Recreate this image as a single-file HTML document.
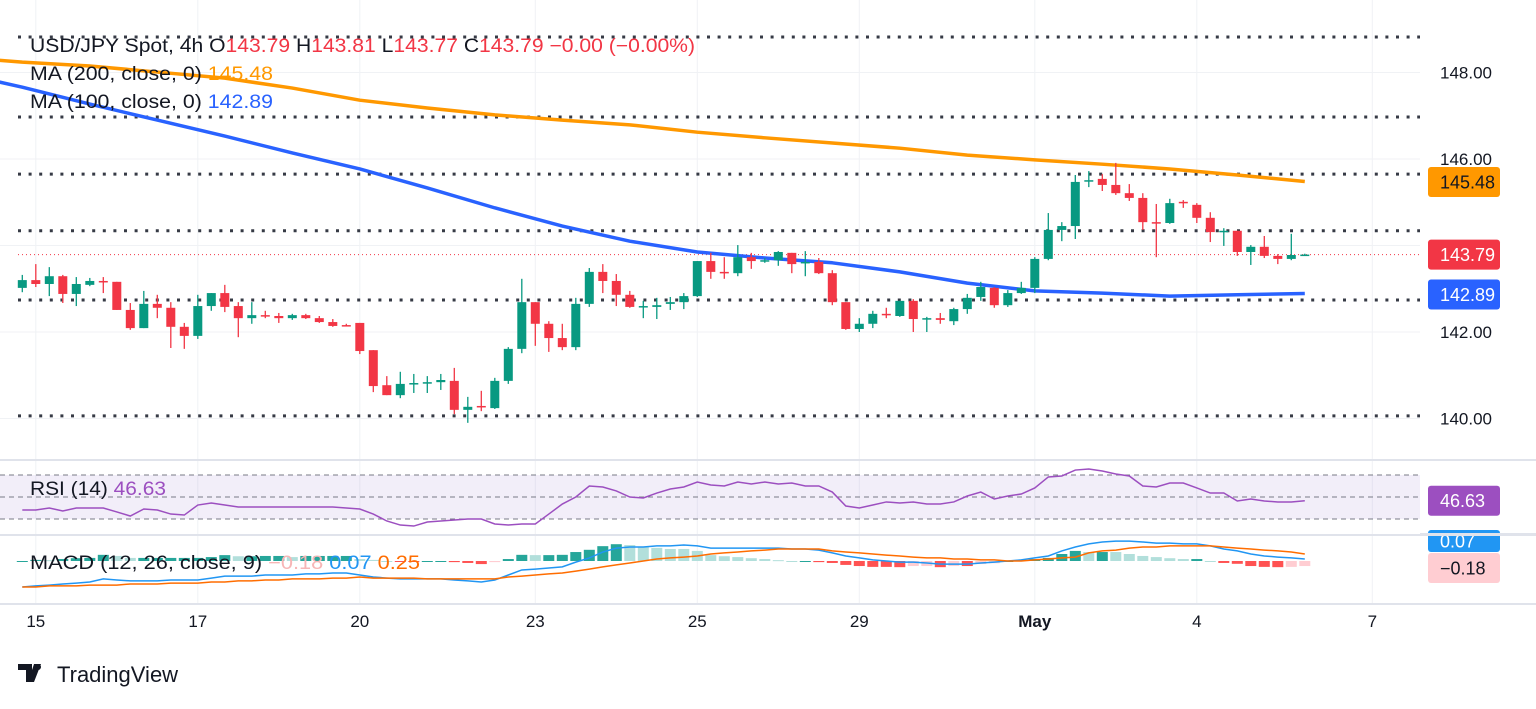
<!DOCTYPE html>
<html><head><meta charset="utf-8">
<style>
html,body{margin:0;padding:0;background:#fff;}
body{width:1536px;height:704px;overflow:hidden;font-family:"Liberation Sans",sans-serif;}
svg text{font-family:"Liberation Sans",sans-serif;}
</style></head>
<body>
<svg id="chart" width="1536" height="704" xmlns="http://www.w3.org/2000/svg">
<rect x="0" y="0" width="1536" height="704" fill="#fff"/>
<g id="grid"></g>
<g id="levels"></g>
<g id="rsiPanel"></g>
<g id="macdPanel"></g>
<g id="mas"></g>
<g id="candles"></g>
<g id="axis"></g>
<g id="timeaxis"></g>
<g font-size="19">
<text x="30" y="52" fill="#131722" textLength="665" lengthAdjust="spacingAndGlyphs">USD/JPY Spot, 4h  O<tspan fill="#f23645">143.79</tspan>  H<tspan fill="#f23645">143.81</tspan>  L<tspan fill="#f23645">143.77</tspan>  C<tspan fill="#f23645">143.79  −0.00 (−0.00%)</tspan></text>
<text x="30" y="80" fill="#131722" textLength="243" lengthAdjust="spacingAndGlyphs">MA (200, close, 0)  <tspan fill="#ff9800">145.48</tspan></text>
<text x="30" y="108" fill="#131722" textLength="243" lengthAdjust="spacingAndGlyphs">MA (100, close, 0)  <tspan fill="#2962ff">142.89</tspan></text>
<text x="30" y="495" fill="#131722" textLength="136" lengthAdjust="spacingAndGlyphs">RSI (14)  <tspan fill="#9c4fc0">46.63</tspan></text>
<text x="30" y="569" fill="#131722" textLength="390" lengthAdjust="spacingAndGlyphs">MACD (12, 26, close, 9)  <tspan fill="#f7b6b6">−0.18</tspan>  <tspan fill="#2196f3">0.07</tspan>  <tspan fill="#ff6d00">0.25</tspan></text>
</g>
<g>
<path d="M18 664h14v18h-6v-12h-8z M34 664h7l-7 18h-6z" fill="#131722"/>
<circle cx="38" cy="667" r="3" fill="#131722"/>
<text x="57" y="682" font-size="22" fill="#131722">TradingView</text>
</g>
</svg>
<script>
// ---- data ----
const open  = [143.02,143.20,143.11,143.29,142.88,143.09,143.18,143.16,142.51,142.09,142.65,142.56,142.12,141.91,142.60,142.90,142.60,142.32,142.39,142.37,142.32,142.39,142.32,142.23,142.16,142.21,141.58,140.77,140.54,140.80,140.82,140.84,140.87,140.20,140.29,140.24,140.87,141.61,142.69,142.19,141.86,141.65,142.65,143.39,143.18,142.86,142.58,142.58,142.65,142.69,142.83,143.64,143.39,143.36,143.73,143.64,143.66,143.83,143.60,143.62,143.36,142.69,142.07,142.19,142.42,142.37,142.72,142.30,142.32,142.25,142.53,142.81,143.02,142.62,142.90,143.02,143.69,144.36,144.45,145.49,145.54,145.40,145.21,145.10,144.54,144.52,145.01,144.94,144.64,144.31,144.34,143.85,143.97,143.76,143.69,143.79];
const high  = [143.32,143.57,143.50,143.32,143.27,143.25,143.27,143.16,142.67,142.95,142.86,142.69,142.21,142.86,142.90,143.09,142.69,142.69,142.49,142.44,142.42,142.42,142.37,142.30,142.19,142.21,141.58,140.98,141.08,141.03,140.98,141.03,141.17,140.50,140.64,140.94,141.65,143.23,142.69,142.25,142.19,142.79,143.48,143.57,143.34,142.95,142.72,142.79,142.81,142.90,143.64,143.83,143.73,144.01,143.83,143.71,143.87,143.83,143.87,143.71,143.43,142.69,142.32,142.49,142.56,142.72,142.76,142.35,142.44,142.56,142.88,143.16,143.04,142.97,143.16,143.73,144.75,144.54,145.63,145.72,145.65,145.91,145.42,145.21,144.96,145.08,145.05,144.98,144.77,144.40,144.34,144.01,144.22,143.80,144.27,143.81];
const low   = [142.92,143.04,142.83,142.67,142.60,143.06,142.90,142.51,142.05,142.09,142.32,141.63,141.61,141.84,142.49,142.46,141.88,142.19,142.32,142.21,142.28,142.30,142.21,142.12,142.14,141.49,140.61,140.54,140.47,140.59,140.59,140.66,140.10,139.90,140.17,140.22,140.80,141.51,141.68,141.54,141.58,141.58,142.58,142.90,142.60,142.56,142.32,142.30,142.51,142.53,142.81,143.23,143.23,143.29,143.46,143.60,143.53,143.36,143.29,143.34,142.62,142.05,142.00,142.09,142.32,142.35,142.00,142.00,142.19,142.16,142.42,142.72,142.56,142.58,142.88,142.90,143.66,144.10,144.15,145.35,145.26,145.17,145.03,144.36,143.73,144.50,144.87,144.52,144.08,143.99,143.76,143.55,143.71,143.57,143.66,143.77];
const close = [143.20,143.11,143.29,142.88,143.11,143.18,143.16,142.51,142.09,142.65,142.56,142.12,141.91,142.60,142.90,142.58,142.32,142.39,142.37,142.32,142.39,142.32,142.23,142.14,142.14,141.56,140.75,140.54,140.80,140.82,140.84,140.89,140.20,140.27,140.27,140.87,141.61,142.69,142.19,141.86,141.65,142.65,143.39,143.18,142.86,142.58,142.60,142.62,142.69,142.83,143.64,143.39,143.38,143.73,143.64,143.66,143.85,143.57,143.62,143.36,142.69,142.07,142.19,142.42,142.39,142.72,142.30,142.32,142.28,142.53,142.79,143.04,142.62,142.90,143.02,143.69,144.36,144.45,145.47,145.51,145.40,145.21,145.10,144.54,144.52,144.98,144.98,144.64,144.31,144.34,143.85,143.97,143.76,143.69,143.78,143.79];
const maIdx  = [-2,0,5,10,15,20,25,30,35,40,45,50,55,60,65,70,75,80,85,90,95];
const ma200  = [148.29,148.24,148.15,148.01,147.87,147.64,147.36,147.18,147.02,146.90,146.79,146.62,146.49,146.37,146.25,146.09,145.98,145.88,145.77,145.63,145.48];
const ma100  = [147.80,147.66,147.27,146.90,146.53,146.14,145.77,145.33,144.87,144.45,144.10,143.85,143.71,143.60,143.39,143.13,142.95,142.90,142.83,142.86,142.89];
const rsi = [38.2,38.2,40.0,37.3,40.0,40.0,40.0,36.4,32.7,39.1,38.2,34.5,33.6,42.7,44.5,42.7,40.9,40.9,40.9,40.9,40.9,40.9,40.9,40.9,40.0,39.1,34.5,28.2,24.5,23.6,27.3,28.2,29.1,30.0,30.0,25.5,24.5,25.5,25.5,34.5,43.6,50.0,60.0,59.1,55.5,50.0,49.1,53.6,57.3,59.1,63.6,60.9,60.0,63.6,61.8,63.6,61.8,62.7,60.0,60.0,54.5,41.8,40.0,42.7,45.5,44.5,45.5,43.6,43.6,45.5,50.9,54.5,48.2,50.9,52.7,58.2,68.2,69.1,74.5,75.5,73.6,70.9,69.1,60.0,59.1,62.7,62.7,58.2,53.6,53.6,46.4,48.2,46.4,45.5,45.5,46.63];
const macd = [-0.93,-0.89,-0.86,-0.82,-0.79,-0.75,-0.64,-0.68,-0.71,-0.71,-0.71,-0.68,-0.68,-0.68,-0.61,-0.54,-0.54,-0.54,-0.50,-0.50,-0.50,-0.46,-0.46,-0.43,-0.43,-0.50,-0.57,-0.61,-0.64,-0.64,-0.64,-0.64,-0.68,-0.71,-0.75,-0.68,-0.50,-0.32,-0.29,-0.25,-0.21,-0.04,0.11,0.32,0.46,0.50,0.50,0.54,0.54,0.57,0.54,0.46,0.46,0.46,0.46,0.46,0.46,0.43,0.43,0.39,0.29,0.18,0.11,0.04,0.00,-0.04,-0.04,-0.07,-0.11,-0.11,-0.11,-0.07,-0.04,0.00,0.04,0.11,0.18,0.36,0.50,0.61,0.68,0.71,0.71,0.68,0.64,0.64,0.61,0.61,0.54,0.43,0.36,0.25,0.18,0.14,0.11,0.07];
const signal = [-0.93,-0.93,-0.89,-0.89,-0.89,-0.86,-0.86,-0.86,-0.82,-0.82,-0.82,-0.79,-0.79,-0.79,-0.75,-0.75,-0.71,-0.71,-0.68,-0.68,-0.64,-0.64,-0.64,-0.61,-0.61,-0.57,-0.61,-0.61,-0.61,-0.61,-0.64,-0.64,-0.64,-0.64,-0.64,-0.64,-0.57,-0.54,-0.50,-0.46,-0.43,-0.36,-0.29,-0.21,-0.14,-0.07,0.00,0.07,0.11,0.14,0.18,0.25,0.29,0.32,0.36,0.39,0.43,0.43,0.43,0.43,0.36,0.32,0.29,0.25,0.21,0.18,0.14,0.11,0.11,0.07,0.07,0.04,0.04,0.00,0.00,0.04,0.07,0.11,0.14,0.29,0.36,0.39,0.46,0.50,0.50,0.54,0.54,0.54,0.54,0.50,0.46,0.43,0.39,0.36,0.32,0.25];
const levelPrices = [148.82,146.97,145.65,144.34,142.74,140.06];
const priceTicks = [148,146,144,142,140];
const tickLabels = ["148.00","146.00","144.00","142.00","140.00"];
const timeIdx = [1,13,25,38,50,62,75,87,100];
const timeLabels = ["15","17","20","23","25","29","May","4","7"];

// ---- scales ----
const NS="http://www.w3.org/2000/svg";
const X = i => 22.3 + 13.5*i;
const Y = p => 159 + (146 - p)*43.25;
const RY = v => 497 - (v-50)*1.1;
const MY = v => 561 - v*28;
const PLOT_R = 1420;
function mk(tag, attrs, parent){const e=document.createElementNS(NS,tag);for(const k in attrs)e.setAttribute(k,attrs[k]);parent.appendChild(e);return e;}
const $ = id=>document.getElementById(id);

// grid
const grid=$('grid');
timeIdx.forEach((ti,k)=>{
  const l=mk('line',{x1:X(ti),x2:X(ti),y1:0,y2:604,stroke:'#f0f2f5','stroke-width':1},grid);
  
  
});
priceTicks.forEach(p=>{
  const l=mk('line',{x1:0,x2:PLOT_R,y1:Y(p),y2:Y(p),stroke:'#f0f2f5','stroke-width':1},grid);
  
  
});
[460,535,604].forEach(yy=>{
  const l=mk('line',{x1:0,x2:1536,y1:yy,y2:yy,stroke:'#e0e3eb','stroke-width':2},grid);
  
  
});

// levels
const lv=$('levels');
levelPrices.forEach(p=>{
  const l=mk('line',{x1:18,x2:PLOT_R,y1:Y(p),y2:Y(p),stroke:'#363a45','stroke-width':3,'stroke-dasharray':'3 7.6'},lv);
  
  
});
{const l=mk('line',{x1:18,x2:PLOT_R,y1:Y(close[close.length-1]),y2:Y(close[close.length-1]),stroke:'#f23645','stroke-width':1,'stroke-dasharray':'1 3'},lv);

}

// RSI
const rp=$('rsiPanel');
{const b=mk('rect',{x:0,y:RY(70),width:PLOT_R,height:RY(30)-RY(70),fill:'#7e57c2','fill-opacity':0.1},rp);

}
[70,50,30].forEach(v=>{
  const l=mk('line',{x1:0,x2:PLOT_R,y1:RY(v),y2:RY(v),stroke:'#787b86','stroke-width':1,'stroke-dasharray':'5 4'},rp);
  
  
});
{const pl=mk('polyline',{points:rsi.map((v,i)=>X(i)+','+RY(v)).join(' '),fill:'none',stroke:'#9c4fc0','stroke-width':1.5},rp);

}

// MACD
const mp=$('macdPanel');
macd.forEach((m,i)=>{
  const h=m-signal[i];
  const prev=i>0?macd[i-1]-signal[i-1]:h;
  let col;
  if(h>=0) col = h>=prev ? '#26a69a' : '#b2dfdb';
  else col = h<=prev ? '#ff5252' : '#ffcdd2';
  const y0=MY(0), y1=MY(h);
  const r=mk('rect',{x:X(i)-5.5,y:Math.min(y0,y1),width:11,height:Math.max(1,Math.abs(y1-y0)),fill:col},mp);
  
  
});
{const pl=mk('polyline',{points:macd.map((v,i)=>X(i)+','+MY(v)).join(' '),fill:'none',stroke:'#2196f3','stroke-width':1.5},mp);

}
{const pl=mk('polyline',{points:signal.map((v,i)=>X(i)+','+MY(v)).join(' '),fill:'none',stroke:'#ff6d00','stroke-width':1.5},mp);

}

// MAs
const mg=$('mas');
{const pl=mk('polyline',{points:maIdx.map((ix,k)=>X(ix)+','+Y(ma200[k])).join(' '),fill:'none',stroke:'#ff9800','stroke-width':3.5,'stroke-linejoin':'round'},mg);

}
{const pl=mk('polyline',{points:maIdx.map((ix,k)=>X(ix)+','+Y(ma100[k])).join(' '),fill:'none',stroke:'#2962ff','stroke-width':3.5,'stroke-linejoin':'round'},mg);

}

// candles
const cg=$('candles');
open.forEach((o,i)=>{
  const c=close[i], up=c>=o, col=up?'#089981':'#f23645';
  const g=mk('g',{},cg);
  
  
  mk('line',{x1:X(i),x2:X(i),y1:Y(high[i]),y2:Y(low[i]),stroke:col,'stroke-width':1.3},g);
  const t=Y(Math.max(o,c)), b=Y(Math.min(o,c));
  mk('rect',{x:X(i)-4.5,y:t,width:9,height:Math.max(1.5,b-t),fill:col},g);
});

// price axis
const ax=$('axis');
priceTicks.forEach((p,k)=>{
  if(p===144) return;
  const t=mk('text',{x:1440,y:Y(p)+6,'font-size':17,fill:'#131722'},ax);
  t.textContent=tickLabels[k];
  
  
});
function tag(y,bg,fg,txt,name,h){
  h=h||30;
  const g=mk('g',{},ax);
  
  
  mk('rect',{x:1428,y:y-h/2,width:72,height:h,rx:3,fill:bg},g);
  const t=mk('text',{x:1440,y:y+6.5,'font-size':18,fill:fg},g);
  t.textContent=txt;
}
tag(Y(145.48)+0.5,'#ff9800','#131722','145.48','ma200-price-tag');
tag(Y(143.79),'#f23645','#fff','143.79','last-price-tag');
tag(Y(142.89)+1,'#2962ff','#fff','142.89','ma100-price-tag');
tag(RY(46.63),'#9c4fc0','#fff','46.63','rsi-value-tag');
tag(541,'#2196f3','#fff','0.07','macd-value-tag',22);
tag(568,'#ffcdd2','#131722','−0.18','hist-value-tag');
{const r=mk('rect',{x:1420,y:533,width:116,height:3,fill:'#e0e3eb'},ax);

}

// time axis
const ta=$('timeaxis');
timeIdx.forEach((ti,k)=>{
  const t=mk('text',{x:X(ti),y:627,'font-size':17,fill:'#131722','text-anchor':'middle','font-weight':timeLabels[k]==='May'?'bold':'normal'},ta);
  t.textContent=timeLabels[k];
  
  
});
</script>
</body></html>
